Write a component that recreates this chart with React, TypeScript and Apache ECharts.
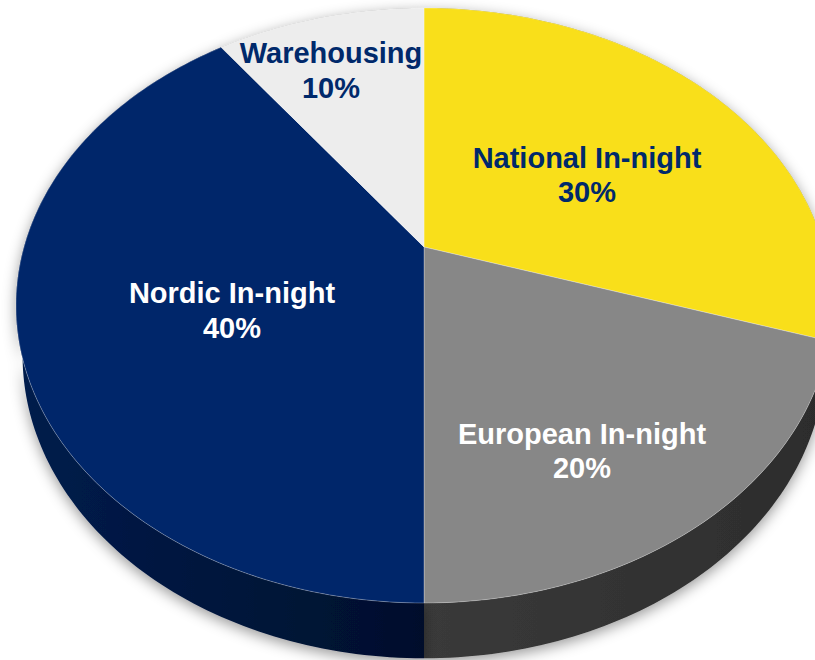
import React, { useEffect, useRef } from "react";
import * as echarts from "echarts";

// ---- data ----
const CATEGORIES = ["National In-night", "European In-night", "Nordic In-night", "Warehousing"];
const VALUES = [30, 20, 40, 10];

// ---- styles / layout ----
const TOP_COLORS = ["#F9DF1A", "#878787", "#00266A", "#EDEDED"];
const SIDE_COLORS: [string, string][] = [
  ["#8A7C0C", "#6F640A"],
  ["#3A3A3A", "#2C2C2C"],
  ["#001C4C", "#000F2C"],
  ["#A0A0A0", "#8A8A8A"],
];
const LABEL_COLORS = ["#00296B", "#FFFFFF", "#FFFFFF", "#00296B"];
const LABEL_POS: [number, number][] = [
  [587, 175],
  [582, 451],
  [232, 310.5],
  [331, 70.5],
];

// perspective projection parameters
const CX = 424;
const CY = 247;
const S = 400;
const T = 286;
const P = 0.1966;
const H = 49;
const BOTTOM_SHRINK = 0.984;

function proj(r: number, thetaDeg: number, y: number): number[] {
  const th = (thetaDeg * Math.PI) / 180;
  const X = r * Math.sin(th);
  const Z = -r * Math.cos(th);
  const w = 1 - P * Z;
  const k = 1 - (1 - BOTTOM_SHRINK) * y;
  return [CX + (k * S * X) / w, CY + (k * T * Z + H * y) / w];
}

function arcPoints(a0: number, a1: number, y: number): number[][] {
  const pts: number[][] = [];
  const n = Math.max(2, Math.ceil(a1 - a0));
  for (let i = 0; i <= n; i++) {
    pts.push(proj(1, a0 + ((a1 - a0) * i) / n, y));
  }
  return pts;
}

export default function App() {
  const ref = useRef<HTMLDivElement>(null);
  useEffect(() => {
    if (!ref.current) return;
    const chart = echarts.init(ref.current, undefined, { renderer: "svg" });
    const total = VALUES.reduce((a, b) => a + b, 0);
    const starts: number[] = [];
    let acc = 0;
    VALUES.forEach((v) => {
      starts.push((acc / total) * 360);
      acc += v;
    });
    const data = VALUES.map((v, i) => ({ name: CATEGORIES[i], value: v }));

    const sideRender = (params: any, api: any) => {
      const i = params.dataIndex;
      const a0 = starts[i];
      const a1 = a0 + (api.value(0) / total) * 360;
      const top = arcPoints(a0, a1, 0);
      const bottom = arcPoints(a0, a1, 1).reverse();
      return {
        type: "polygon",
        shape: { points: top.concat(bottom) },
        style: {
          fill: new echarts.graphic.LinearGradient(0, 0, 1, 0, [
            { offset: 0, color: SIDE_COLORS[i][0] },
            { offset: 1, color: SIDE_COLORS[i][1] },
          ]),
          shadowBlur: 14,
          shadowOffsetY: 4,
          shadowColor: "rgba(0,0,0,0.4)",
        },
      };
    };

    const topRender = (params: any, api: any) => {
      const i = params.dataIndex;
      const a0 = starts[i];
      const a1 = a0 + (api.value(0) / total) * 360;
      const pts = [proj(0, 0, 0)].concat(arcPoints(a0, a1, 0));
      return {
        type: "polygon",
        shape: { points: pts },
        style: { fill: TOP_COLORS[i], stroke: "rgba(255,255,255,0.35)", lineWidth: 0.8 },
      };
    };

    const labelRender = (params: any, api: any) => {
      const i = params.dataIndex;
      return {
        type: "text",
        x: LABEL_POS[i][0],
        y: LABEL_POS[i][1],
        style: {
          text: CATEGORIES[i] + "\n" + api.value(0) + "%",
          fill: LABEL_COLORS[i],
          fontFamily: "Liberation Sans, Arial, sans-serif",
          fontWeight: "bold",
          fontSize: 29,
          lineHeight: 34.5,
          align: "center",
          verticalAlign: "middle",
        },
      };
    };

    chart.setOption({
      animation: false,
      backgroundColor: "#FFFFFF",
      series: [
        { type: "custom", coordinateSystem: "none", renderItem: sideRender, data, z: 1, silent: true },
        { type: "custom", coordinateSystem: "none", renderItem: topRender, data, z: 2, silent: true },
        { type: "custom", coordinateSystem: "none", renderItem: labelRender, data, z: 3, silent: true },
      ],
    });
    return () => chart.dispose();
  }, []);
  return (
    <div
      ref={ref}
      style={{ position: "fixed", left: 0, top: 0, width: 815, height: 660, overflow: "hidden" }}
    />
  );
}
